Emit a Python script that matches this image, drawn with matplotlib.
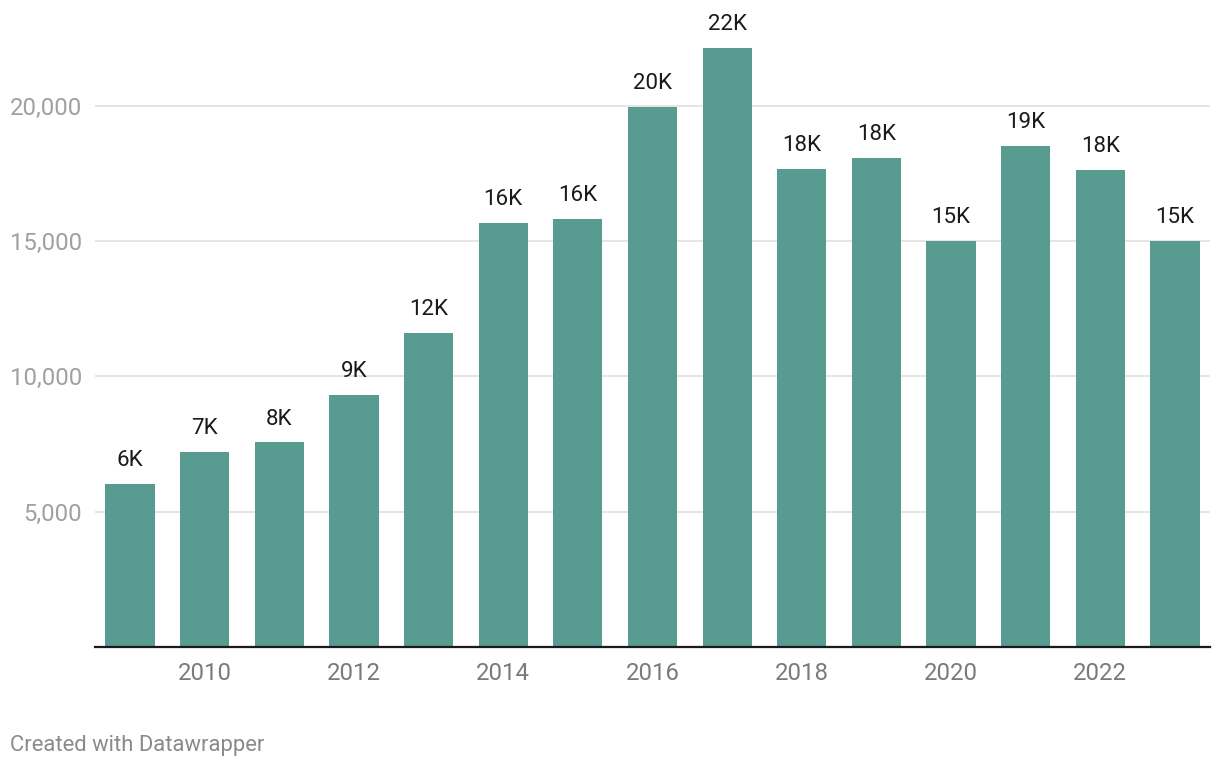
import matplotlib.pyplot as plt
from matplotlib.ticker import FuncFormatter

plt.rcParams['font.family'] = ['Roboto', 'DejaVu Sans']

# values
years = [2009, 2010, 2011, 2012, 2013, 2014, 2015, 2016, 2017, 2018, 2019, 2020, 2021, 2022, 2023]
values = [6040, 7220, 7560, 9330, 11590, 15670, 15810, 19960, 22150, 17670, 18070, 15000, 18520, 17630, 15000]
labels = ['6K', '7K', '8K', '9K', '12K', '16K', '16K', '20K', '22K', '18K', '18K', '15K', '19K', '18K', '15K']
y_ticks = [5000, 10000, 15000, 20000]
x_ticks = [2010, 2012, 2014, 2016, 2018, 2020, 2022]

fig = plt.figure(figsize=(12.2, 7.7), dpi=100)
ax = fig.add_axes([95 / 1220, 123 / 770, 1115 / 1220, 617 / 770])

ax.bar(years, values, width=0.66, color='#589b91', zorder=2)
for x, v, lab in zip(years, values, labels):
    ax.text(x, v + 660, lab, ha='center', va='baseline', fontsize=16,
            color='#1a1a1a', clip_on=False)

ax.set_xlim(2008.53, 2023.47)
ax.set_ylim(0, 22800)
ax.set_yticks(y_ticks)
ax.yaxis.set_major_formatter(FuncFormatter(lambda v, p: f'{int(v):,}'))
ax.set_xticks(x_ticks)

ax.grid(axis='y', color='#e3e3e3', linewidth=1.3, zorder=0)
for s in ['top', 'right', 'left']:
    ax.spines[s].set_visible(False)
ax.spines['bottom'].set_color('#1a1a1a')
ax.spines['bottom'].set_linewidth(1.6)
ax.spines['bottom'].set_zorder(3)

ax.tick_params(axis='y', length=0, pad=9.5, labelsize=17.2, labelcolor='#a0a0a0')
ax.tick_params(axis='x', length=0, pad=10.5, labelsize=17.2, labelcolor='#7a7a7a')

fig.text(10 / 1220, 1 - 746 / 770, 'Created with Datawrapper', ha='left', va='center',
         fontsize=15.8, color='#8a8a8a')

fig.savefig('out.png', dpi=100)
